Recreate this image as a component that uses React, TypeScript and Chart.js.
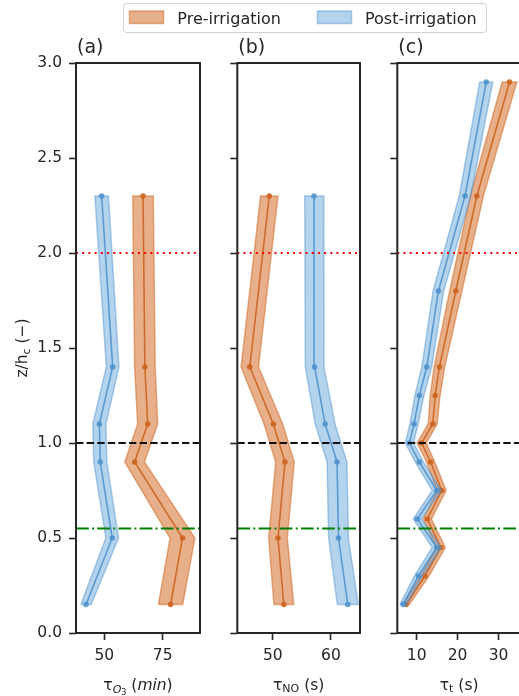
import React, { useEffect, useRef } from 'react';
import { Chart, registerables } from 'chart.js';

Chart.register(...registerables);

// ---------------- data ----------------
const LEGEND_LABELS = ['Pre-irrigation', 'Post-irrigation'];
const PANEL_TITLES = ['(a)', '(b)', '(c)'];

const Y_TICKS = [0, 0.5, 1.0, 1.5, 2.0, 2.5, 3.0];
const REF_LEVELS = [2.0, 1.0, 0.55];

// panel (a): ozone timescale (min)
const Z_PROFILE = [0.15, 0.5, 0.9, 1.1, 1.4, 2.3];
const O3_PRE = [78.4, 83.5, 63.0, 68.6, 67.4, 66.6];
const O3_PRE_ERR = [5.2, 5.3, 4.2, 4.3, 4.4, 4.4];
const O3_POST = [42.2, 53.4, 48.3, 47.9, 53.6, 48.9];
const O3_POST_ERR = [2.2, 2.7, 2.8, 2.8, 2.7, 2.9];
const O3_TICKS = [50, 75];
const O3_RANGE = [37.9, 91.0];

// panel (b): NO timescale (s)
const NO_PRE = [51.9, 50.9, 52.1, 50.1, 46.05, 49.4];
const NO_PRE_ERR = [1.7, 1.6, 1.6, 1.6, 1.5, 1.5];
const NO_POST = [62.9, 61.3, 61.05, 59.0, 57.2, 57.1];
const NO_POST_ERR = [1.8, 1.7, 1.7, 1.7, 1.6, 1.6];
const NO_TICKS = [50, 60];
const NO_RANGE = [43.9, 65.0];

// panel (c): turbulent timescale (s)
const Z_TURB = [0.15, 0.3, 0.45, 0.6, 0.75, 0.9, 1.0, 1.1, 1.25, 1.4, 1.8, 2.3, 2.9];
const T_PRE = [7.4, 12.0, 15.9, 12.6, 16.1, 13.4, 11.2, 13.9, 14.5, 15.55, 19.55, 24.7, 32.7];
const T_PRE_ERR = [0.8, 1.0, 1.1, 1.0, 1.1, 1.0, 1.1, 1.1, 1.2, 1.3, 1.5, 1.6, 1.8];
const T_POST = [6.7, 10.4, 14.9, 10.15, 14.9, 10.65, 8.2, 9.35, 10.65, 12.45, 15.3, 21.8, 27.0];
const T_POST_ERR = [0.8, 1.0, 1.1, 1.0, 1.1, 1.0, 1.0, 1.0, 1.1, 1.2, 1.3, 1.4, 1.6];
const T_TICKS = [10, 20, 30];
const T_RANGE = [5.25, 35.5];

// ---------------- styles ----------------
const FONT = '"DejaVu Sans", "Liberation Sans", sans-serif';
const INK = '#262626';
const PRE_STYLE = { line: 'rgba(205,100,30,0.9)', fill: 'rgba(214,112,42,0.55)', edge: 'rgba(205,100,30,0.5)' };
const POST_STYLE = { line: 'rgba(75,145,205,0.85)', fill: 'rgba(88,158,216,0.45)', edge: 'rgba(75,145,205,0.45)' };
const REF_STYLES = [
  { color: '#ff0000', dash: [2, 4.2] },
  { color: '#111111', dash: [7.4, 3.2] },
  { color: '#008000', dash: [12.8, 3.2, 2, 3.2] },
];

const CANVAS_W = 530;
const CANVAS_H = 696;

type Part = { t: string; s?: number; italic?: boolean; dy?: number };

const X_LABELS: Part[][] = [
  [
    { t: 'τ' },
    { t: 'O', s: 11, italic: true, dy: 3 },
    { t: '3', s: 8, dy: 5.5 },
    { t: ' (' },
    { t: 'min', italic: true },
    { t: ')' },
  ],
  [{ t: 'τ' }, { t: 'NO', s: 11, dy: 2.5 }, { t: ' (s)' }],
  [{ t: 'τ' }, { t: 't', s: 11, dy: 2.5 }, { t: ' (s)' }],
];
const Y_LABEL: Part[] = [{ t: 'z/h' }, { t: 'c', s: 11, dy: 2.5 }, { t: ' (−)' }];

function fontOf(p: Part) {
  return `${p.italic ? 'italic ' : ''}${p.s ?? 15.5}px ${FONT}`;
}

function drawRich(ctx: CanvasRenderingContext2D, parts: Part[], cx: number, baseline: number) {
  const widths = parts.map((p) => {
    ctx.font = fontOf(p);
    return ctx.measureText(p.t).width;
  });
  const total = widths.reduce((a, b) => a + b, 0);
  let x = cx - total / 2;
  ctx.textAlign = 'left';
  ctx.textBaseline = 'alphabetic';
  parts.forEach((p, i) => {
    ctx.font = fontOf(p);
    ctx.fillText(p.t, x, baseline + (p.dy ?? 0));
    x += widths[i];
  });
}

function band(xs: number[], errs: number[], zs: number[]) {
  const left = xs.map((x, i) => ({ x: x - errs[i], y: zs[i] }));
  const right = xs.map((x, i) => ({ x: x + errs[i], y: zs[i] })).reverse();
  return [...left, ...right, left[0]];
}

function profile(xs: number[], zs: number[]) {
  return xs.map((x, i) => ({ x, y: zs[i] }));
}

type PanelDef = {
  idx: number;
  z: number[];
  pre: number[];
  preErr: number[];
  post: number[];
  postErr: number[];
  ticks: number[];
  range: number[];
  padLeft: number;
  yWidth: number;
  plotRight: number;
  showY: boolean;
};

const PANELS: PanelDef[] = [
  { idx: 0, z: Z_PROFILE, pre: O3_PRE, preErr: O3_PRE_ERR, post: O3_POST, postErr: O3_POST_ERR, ticks: O3_TICKS, range: O3_RANGE, padLeft: 0, yWidth: 76, plotRight: 200, showY: true },
  { idx: 1, z: Z_PROFILE, pre: NO_PRE, preErr: NO_PRE_ERR, post: NO_POST, postErr: NO_POST_ERR, ticks: NO_TICKS, range: NO_RANGE, padLeft: 200, yWidth: 37.3, plotRight: 360, showY: false },
  { idx: 2, z: Z_TURB, pre: T_PRE, preErr: T_PRE_ERR, post: T_POST, postErr: T_POST_ERR, ticks: T_TICKS, range: T_RANGE, padLeft: 360, yWidth: 37.3, plotRight: 521, showY: false },
];

function buildConfig(p: PanelDef): any {
  const [xmin, xmax] = p.range;
  const refSets = REF_LEVELS.map((lvl, i) => ({
    data: [
      { x: xmin, y: lvl },
      { x: xmax, y: lvl },
    ],
    borderColor: REF_STYLES[i].color,
    borderDash: REF_STYLES[i].dash,
    borderWidth: 2,
    borderCapStyle: 'butt',
    pointRadius: 0,
    fill: false,
  }));
  const lineSet = (xs: number[], st: typeof PRE_STYLE) => ({
    data: profile(xs, p.z),
    borderColor: st.line,
    backgroundColor: st.line,
    borderWidth: 1.6,
    pointRadius: 2.8,
    pointBorderWidth: 0,
    pointBackgroundColor: st.line,
    fill: false,
  });
  const bandSet = (xs: number[], errs: number[], st: typeof PRE_STYLE) => ({
    data: band(xs, errs, p.z),
    borderColor: st.edge,
    backgroundColor: st.fill,
    borderWidth: 1.5,
    pointRadius: 0,
    fill: 'shape',
  });

  const deco = {
    id: 'deco' + p.idx,
    afterDraw(chart: any) {
      const { ctx, chartArea: a } = chart;
      ctx.save();
      ctx.strokeStyle = INK;
      ctx.lineWidth = 2;
      ctx.strokeRect(a.left, a.top, a.right - a.left, a.bottom - a.top);
      ctx.fillStyle = INK;
      ctx.font = `19px ${FONT}`;
      ctx.textAlign = 'left';
      ctx.textBaseline = 'alphabetic';
      ctx.fillText(PANEL_TITLES[p.idx], a.left + 1, 52.5);
      drawRich(ctx, X_LABELS[p.idx], (a.left + a.right) / 2, 689.5);
      if (p.showY) {
        ctx.save();
        ctx.translate(27, (a.top + a.bottom) / 2);
        ctx.rotate(-Math.PI / 2);
        drawRich(ctx, Y_LABEL, 0, 0);
        ctx.restore();
        // legend
        ctx.fillStyle = 'rgba(255,255,255,0.9)';
        ctx.strokeStyle = '#d2d2d2';
        ctx.lineWidth = 1;
        ctx.beginPath();
        (ctx as any).roundRect(123.5, 3.5, 363, 29, 3);
        ctx.fill();
        ctx.stroke();
        const entries = [
          { st: PRE_STYLE, px: 129.5, tx: 177.3 },
          { st: POST_STYLE, px: 317.5, tx: 365 },
        ];
        entries.forEach((e, i) => {
          ctx.fillStyle = e.st.fill;
          ctx.fillRect(e.px, 11, 34, 12.5);
          ctx.strokeStyle = e.st.edge;
          ctx.lineWidth = 1.5;
          ctx.strokeRect(e.px, 11, 34, 12.5);
          ctx.fillStyle = INK;
          ctx.font = `16px ${FONT}`;
          ctx.fillText(LEGEND_LABELS[i], e.tx, 23.5);
        });
      }
      ctx.restore();
    },
  };

  return {
    type: 'line',
    data: {
      datasets: [
        ...refSets,
        lineSet(p.post, POST_STYLE),
        bandSet(p.post, p.postErr, POST_STYLE),
        lineSet(p.pre, PRE_STYLE),
        bandSet(p.pre, p.preErr, PRE_STYLE),
      ],
    },
    options: {
      animation: false,
      responsive: false,
      maintainAspectRatio: false,
      events: [],
      layout: {
        padding: { left: p.padLeft, right: CANVAS_W - p.plotRight, top: 63, bottom: 0 },
      },
      elements: { line: { tension: 0 } },
      plugins: { legend: { display: false }, tooltip: { enabled: false }, title: { display: false } },
      scales: {
        x: {
          type: 'linear',
          min: xmin,
          max: xmax,
          afterBuildTicks: (s: any) => {
            s.ticks = p.ticks.map((v) => ({ value: v }));
          },
          afterFit: (s: any) => {
            s.height = 63;
          },
          ticks: {
            autoSkip: false,
            maxRotation: 0,
            padding: 7,
            color: INK,
            font: { family: FONT, size: 15.5 },
            callback: (v: any) => String(v),
          },
          grid: { drawOnChartArea: false, drawTicks: true, tickLength: 7, tickColor: INK, tickWidth: 1.6 },
          border: { display: false },
        },
        y: {
          type: 'linear',
          min: 0,
          max: 3,
          afterBuildTicks: (s: any) => {
            s.ticks = Y_TICKS.map((v) => ({ value: v }));
          },
          afterFit: (s: any) => {
            s.width = p.yWidth;
          },
          ticks: {
            padding: 7,
            color: INK,
            font: { family: FONT, size: 15.5 },
            callback: (v: any) => (p.showY ? Number(v).toFixed(1) : ''),
          },
          grid: { drawOnChartArea: false, drawTicks: true, tickLength: 7, tickColor: INK, tickWidth: 1.6 },
          border: { display: false },
        },
      },
    },
    plugins: [deco],
  };
}

function Panel({ def }: { def: PanelDef }) {
  const ref = useRef<HTMLCanvasElement>(null);
  useEffect(() => {
    const chart = new Chart(ref.current as HTMLCanvasElement, buildConfig(def));
    return () => chart.destroy();
  }, [def]);
  return (
    <canvas
      ref={ref}
      width={CANVAS_W}
      height={CANVAS_H}
      style={{ position: 'absolute', left: 0, top: 0, width: CANVAS_W, height: CANVAS_H }}
    />
  );
}

export default function App() {
  return (
    <div
      style={{
        position: 'absolute',
        left: 0,
        top: 0,
        width: 519,
        height: 696,
        overflow: 'hidden',
        background: '#ffffff',
      }}
    >
      {PANELS.map((d) => (
        <Panel key={d.idx} def={d} />
      ))}
    </div>
  );
}
